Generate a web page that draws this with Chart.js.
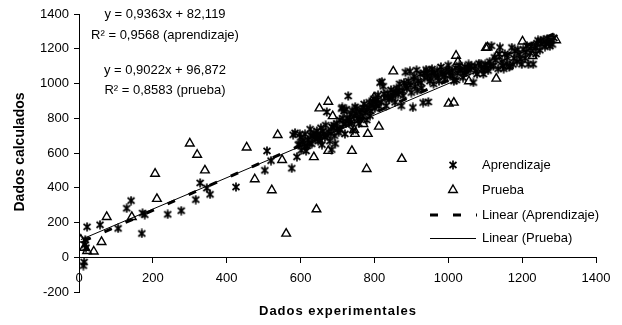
<!DOCTYPE html>
<html>
<head>
<meta charset="utf-8">
<script src="https://cdn.jsdelivr.net/npm/chart.js@4.4.0/dist/chart.umd.min.js"></script>
<style>
  html, body { margin: 0; padding: 0; background: #fff; }
  #wrap { width: 622px; height: 325px; }
</style>
</head>
<body>
<div id="wrap"><canvas id="chart" width="622" height="325"></canvas></div>
<script>
// Aprendizaje (asterisks) - [experimental, calculado]
const aprendizajePts = [
  [12, -48], [14, -28], [16, 72], [19, 55], [17, 100], [22, 175], [57, 187], [106, 166],
  [129, 282], [141, 326], [170, 137], [172, 254], [178, 245], [240, 247], [277, 268],
  [316, 332], [328, 428], [346, 398], [355, 362], [425, 404], [503, 500], [509, 612],
  [520, 556], [576, 512],
  [580, 705], [585, 716], [590, 578], [594, 648], [597, 650], [598, 708], [602, 616],
  [605, 662], [611, 636], [612, 708], [615, 612], [620, 676], [625, 655], [626, 737],
  [630, 653], [632, 698], [636, 714], [640, 680], [644, 727], [648, 668], [652, 699],
  [655, 745], [658, 648], [662, 710], [666, 692], [668, 760], [671, 836], [675, 722],
  [679, 668], [684, 620], [685, 750], [689, 746], [692, 700], [694, 654], [698, 770],
  [703, 718], [706, 790], [711, 856], [713, 862], [716, 766], [718, 842], [720, 710],
  [724, 852], [726, 800], [729, 928], [731, 770], [735, 822], [738, 776], [742, 730],
  [745, 812], [748, 866], [752, 856], [755, 800], [758, 770], [761, 834], [765, 847],
  [768, 812], [772, 882], [775, 832], [779, 790], [782, 862], [786, 892], [790, 842],
  [794, 872], [798, 912], [801, 857], [805, 882], [810, 933], [815, 1005], [818, 892],
  [820, 1010], [824, 984], [828, 918], [832, 872], [836, 943], [840, 908], [845, 963],
  [848, 918], [852, 953], [856, 892], [860, 973], [864, 938], [868, 998], [873, 872],
  [876, 958], [880, 1004], [884, 1065], [888, 973], [892, 1014], [896, 1070], [900, 948],
  [904, 862], [906, 1024], [910, 984], [914, 1077], [918, 1014], [924, 1055], [928, 973],
  [932, 890], [936, 1034], [940, 1080], [942, 1070], [946, 894], [950, 1014], [955, 1060],
  [956, 1083], [960, 998], [965, 1045], [970, 1075], [975, 1014], [980, 1095], [985, 1055],
  [990, 1024], [995, 1080], [1000, 1105], [1005, 1045], [1010, 1075], [1015, 1014],
  [1020, 1090], [1025, 1060], [1030, 1105], [1035, 1075], [1040, 1034], [1045, 1095],
  [1050, 1065], [1055, 1110], [1060, 1080], [1068, 1006], [1072, 1100], [1078, 1055],
  [1083, 1115], [1090, 1085], [1095, 1055], [1100, 1110], [1105, 1090], [1108, 1075],
  [1112, 1126], [1117, 1217], [1122, 1100], [1128, 1136], [1135, 1085], [1140, 1208],
  [1145, 1126], [1150, 1085], [1153, 1170], [1158, 1115], [1165, 1095], [1167, 1102],
  [1172, 1207], [1178, 1146], [1180, 1187], [1186, 1126], [1192, 1166], [1199, 1111],
  [1203, 1197], [1208, 1146], [1213, 1217], [1217, 1111], [1222, 1177], [1230, 1111],
  [1235, 1207], [1240, 1232], [1243, 1248], [1248, 1192], [1252, 1228], [1258, 1253],
  [1262, 1212], [1268, 1258], [1272, 1238], [1278, 1250], [1282, 1225], [1286, 1262],
  [600, 690], [608, 672], [618, 640], [628, 700], [638, 690], [646, 705], [654, 672],
  [660, 726], [672, 700], [682, 712], [690, 760], [700, 742], [708, 735], [714, 800],
  [722, 770], [733, 790], [740, 845], [750, 828], [760, 795], [770, 860], [780, 850],
  [788, 815], [796, 895], [808, 905], [812, 870], [826, 940], [838, 920], [850, 930],
  [858, 945], [866, 960], [878, 930], [886, 985], [898, 990], [908, 1040], [916, 960],
  [926, 1005], [934, 1060], [944, 1040], [952, 1030], [962, 1060], [972, 1040], [982, 1065],
  [992, 1050], [1002, 1070], [1012, 1045], [1022, 1020], [1032, 1080], [1042, 1060],
  [1052, 1090], [1062, 1100], [1075, 1070], [1088, 1110], [1098, 1080], [1115, 1100],
  [1125, 1150], [1138, 1170], [1148, 1100], [1160, 1150], [1175, 1110], [1188, 1195],
  [1196, 1140], [1210, 1180], [1225, 1215], [1238, 1170], [1250, 1245], [1265, 1230],
  [1275, 1215]
];

// Prueba (triangles)
const pruebaPts = [
  [5, 102], [14, 55], [22, 36], [40, 33], [61, 88], [75, 232], [143, 232], [206, 481],
  [211, 336], [300, 655], [320, 590], [341, 500], [454, 632], [476, 449], [522, 386],
  [538, 704], [550, 560], [561, 136], [636, 576], [643, 276], [675, 612], [739, 612],
  [779, 508], [874, 566], [782, 710], [747, 710], [675, 895], [651, 857], [687, 812],
  [745, 733], [737, 790], [799, 920], [770, 767], [812, 752], [797, 885], [851, 1070],
  [1001, 884], [1015, 890], [1021, 1160], [1026, 1125], [1102, 1205], [953, 1068],
  [1056, 1013], [1131, 1158], [1201, 1242], [1228, 1158], [1292, 1249], [1130, 1028],
  [1106, 1208], [1230, 1210]
];

// trend lines: [slope, intercept] and x range shown
const trendAprendizaje = [0.9363, 82.119];
const trendPrueba = [0.9022, 96.872];
const trendAprendizajeX = [12, 1286];
const trendPruebaX = [5, 1292];

const equationText = [
  'y = 0,9363x + 82,119',
  'R\u00B2 = 0,9568 (aprendizaje)',
  'y = 0,9022x + 96,872',
  'R\u00B2 = 0,8583 (prueba)'
];
const legendLabels = ['Aprendizaje', 'Prueba', 'Linear (Aprendizaje)', 'Linear (Prueba)'];
const xTitle = 'Dados experimentales';
const yTitle = 'Dados calculados';

const FONT = '"Liberation Sans", Arial, Helvetica, sans-serif';
Chart.defaults.font.family = FONT;
Chart.defaults.color = '#000';

function makeAsterisk() {
  const c = document.createElement('canvas');
  c.width = 10; c.height = 10;
  const g = c.getContext('2d');
  g.strokeStyle = '#000';
  g.lineWidth = 1.7;
  g.beginPath();
  g.moveTo(1.5, 2); g.lineTo(8.5, 8);
  g.moveTo(8.5, 2); g.lineTo(1.5, 8);
  g.moveTo(5, 0.5); g.lineTo(5, 9.5);
  g.stroke();
  return c;
}
const asterisk = makeAsterisk();

function trendPoints(coef, xr) {
  return xr.map(x => ({ x: x, y: coef[0] * x + coef[1] }));
}

const overlay = {
  id: 'overlay',
  afterDraw(chart) {
    const ctx = chart.ctx;
    ctx.save();
    ctx.fillStyle = '#000';
    ctx.strokeStyle = '#000';
    ctx.textBaseline = 'middle';

    // equations
    ctx.font = '13px ' + FONT;
    ctx.textAlign = 'center';
    const eqY = [14, 35, 70, 90];
    equationText.forEach((t, i) => ctx.fillText(t, 165, eqY[i]));

    // legend
    const rows = [165, 190, 215, 238];
    ctx.textAlign = 'left';
    legendLabels.forEach((t, i) => ctx.fillText(t, 482, rows[i]));
    ctx.drawImage(asterisk, 453 - 5, rows[0] - 5);
    ctx.lineWidth = 1.4;
    ctx.beginPath();
    const r = 5;
    ctx.moveTo(453, rows[1] - r);
    ctx.lineTo(453 + r * 0.866, rows[1] + r / 2);
    ctx.lineTo(453 - r * 0.866, rows[1] + r / 2);
    ctx.closePath();
    ctx.stroke();
    ctx.lineWidth = 3;
    ctx.setLineDash([8, 15]);
    ctx.beginPath();
    ctx.moveTo(430, rows[2]); ctx.lineTo(477, rows[2]);
    ctx.stroke();
    ctx.setLineDash([]);
    ctx.lineWidth = 1;
    ctx.beginPath();
    ctx.moveTo(430, rows[3] + 0.5); ctx.lineTo(476, rows[3] + 0.5);
    ctx.stroke();

    // axis titles
    ctx.font = 'bold 13px ' + FONT;
    ctx.textAlign = 'center';
    if ('letterSpacing' in ctx) ctx.letterSpacing = '1px';
    ctx.fillText(xTitle, 338, 311);
    if ('letterSpacing' in ctx) ctx.letterSpacing = '0px';
    ctx.font = 'bold 14px ' + FONT;
    ctx.translate(20, 152);
    ctx.rotate(-Math.PI / 2);
    ctx.fillText(yTitle, 0, 0);
    ctx.restore();
  }
};

new Chart(document.getElementById('chart'), {
  type: 'scatter',
  data: {
    datasets: [
      {
        label: legendLabels[2],
        data: trendPoints(trendAprendizaje, trendAprendizajeX),
        showLine: true,
        borderColor: '#000',
        borderWidth: 3,
        borderDash: [8, 15],
        pointRadius: 0
      },
      {
        label: legendLabels[3],
        data: trendPoints(trendPrueba, trendPruebaX),
        showLine: true,
        borderColor: '#000',
        borderWidth: 1,
        pointRadius: 0
      },
      {
        label: legendLabels[0],
        data: aprendizajePts.map(p => ({ x: p[0], y: p[1] })),
        pointStyle: asterisk,
        pointRadius: 5
      },
      {
        label: legendLabels[1],
        data: pruebaPts.map(p => ({ x: p[0], y: p[1] })),
        pointStyle: 'triangle',
        pointRadius: 5,
        borderColor: '#000',
        borderWidth: 1.4,
        backgroundColor: 'rgba(0,0,0,0)'
      }
    ]
  },
  options: {
    responsive: false,
    animation: false,
    layout: { padding: { top: 14, right: 26, bottom: 33, left: 0 } },
    plugins: { legend: { display: false }, tooltip: { enabled: false } },
    scales: {
      x: {
        type: 'linear',
        position: { y: 0 },
        min: 0, max: 1400,
        ticks: { stepSize: 200, font: { size: 13 }, padding: 8, maxRotation: 0, color: '#000',
                 callback: v => String(v) },
        grid: { drawOnChartArea: false, drawTicks: true, tickLength: 5, color: '#000' },
        border: { color: '#000', width: 1 },
        afterFit: s => { s.height = 0; }
      },
      y: {
        type: 'linear',
        position: 'left',
        min: -200, max: 1400,
        ticks: { stepSize: 200, font: { size: 13 }, padding: 5, color: '#000',
                 callback: v => String(v) },
        grid: { drawOnChartArea: false, drawTicks: true, tickLength: 5, color: '#000' },
        border: { color: '#000', width: 1 },
        afterFit: s => { s.width = 79; }
      }
    }
  },
  plugins: [overlay]
});
</script>
</body>
</html>
